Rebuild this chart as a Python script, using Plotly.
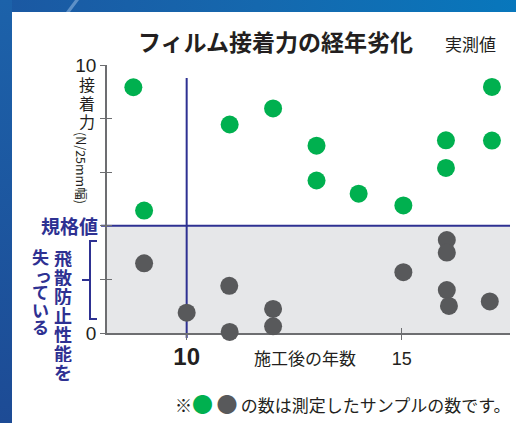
import base64
import plotly.graph_objects as go

# ---------------- data ----------------
years_ok = [8.76, 9.01, 11.0, 12.01, 13.02, 13.02, 14.0, 15.04, 16.03, 16.03, 17.1, 17.1]
force_ok = [9.17, 4.57, 7.78, 8.38, 6.99, 5.69, 5.2, 4.76, 7.19, 6.16, 9.18, 7.18]

years_ng = [9.01, 10.0, 10.99, 11.0, 12.01, 12.01, 15.04, 16.05, 16.05, 16.05, 16.1, 17.05]
force_ng = [2.6, 0.76, 1.76, 0.04, 0.9, 0.25, 2.27, 3.47, 3.0, 1.6, 1.01, 1.18]

spec_value = 4          # 規格値
highlight_year = 10     # 強調年
x_range = [8.147, 17.52]
y_range = [0, 10]
y_tickvals = [0, 2, 4, 6, 8, 10]
y_ticktext = ["0", "", "", "", "", "10"]
x_tickvals = [10, 15]
x_ticktext = ['<b><span style="font-size:24px">10</span></b>', "15"]

title_text = "フィルム接着力の経年劣化"
subtitle_text = "実測値"
x_title = "施工後の年数"
y_title_upright = "接着力"
y_title_rot = "(N/25mm幅)"
spec_label = "規格値"
fail_col1 = "飛散防止性能を"
fail_col2 = "失っている"
note_text = ('※<span style="color:#00b04f;font-size:21px">●</span>\u2009'
             '<span style="color:#58595b;font-size:21px">●</span>\u2009'
             'の数は測定したサンプルの数です。')

# ---------------- styling ----------------
W, H = 516, 423
PL, PR, PT, PB = 107, 510, 65, 333
GREEN = "#00b04f"
GRAY = "#58595b"
NAVY = "#2e3192"
AXIS = "#6d6e71"
TXT = "#231f20"
JP = "Noto Sans CJK JP"
NUM = "Liberation Sans"


def px(p):
    return (p - PL) / (PR - PL)


def py(p):
    return (PB - p) / (PB - PT)


fig = go.Figure()

fig.add_trace(go.Scatter(x=years_ng, y=force_ng, mode="markers", cliponaxis=False,
                         marker=dict(size=18, color=GRAY, line=dict(width=0)),
                         showlegend=False, hoverinfo="skip"))
fig.add_trace(go.Scatter(x=years_ok, y=force_ok, mode="markers", cliponaxis=False,
                         marker=dict(size=18, color=GREEN, line=dict(width=0)),
                         showlegend=False, hoverinfo="skip"))
# dummy trace to realise the overlay axes (inside ticks)
fig.add_trace(go.Scatter(x=[None], y=[None], xaxis="x2", yaxis="y2", mode="markers",
                         showlegend=False, hoverinfo="skip"))

# background frame
svg = f"""<svg xmlns='http://www.w3.org/2000/svg' width='{W}' height='{H}' viewBox='0 0 {W} {H}'>
<defs>
<linearGradient id='t' x1='0' y1='0' x2='1' y2='0'><stop offset='0' stop-color='#1b58a2'/><stop offset='0.5' stop-color='#1568ae'/><stop offset='1' stop-color='#0877bc'/></linearGradient>
<linearGradient id='l' x1='0' y1='0' x2='0' y2='1'><stop offset='0' stop-color='#1c62aa'/><stop offset='1' stop-color='#1d4b95'/></linearGradient>
</defs>
<rect width='{W}' height='{H}' fill='white'/>
<rect width='{W}' height='12' fill='url(#t)'/>
<rect width='12' height='{H}' fill='url(#l)'/>
<polygon points='75,0 79,0 70,12 66,12' fill='#7aa7d6' opacity='0.7'/>
</svg>"""
src = "data:image/svg+xml;base64," + base64.b64encode(svg.encode()).decode()

shapes = [
    # 不合格ゾーン
    dict(type="rect", xref="paper", yref="y", x0=0, x1=1, y0=0, y1=spec_value,
         fillcolor="#e6e7e9", line=dict(width=0), layer="below"),
    # 規格値ライン
    dict(type="line", xref="paper", yref="y", x0=px(101), x1=1, y0=spec_value, y1=spec_value,
         line=dict(color=NAVY, width=2), layer="below"),
    # 10年ライン
    dict(type="line", xref="x", yref="paper", x0=highlight_year, x1=highlight_year,
         y0=py(338), y1=py(78), line=dict(color=NAVY, width=2), layer="below"),
    # bracket
    dict(type="path", xref="paper", yref="paper",
         path=f"M {px(97)},{py(241)} L {px(90)},{py(241)} L {px(90)},{py(319)} L {px(97)},{py(319)}",
         line=dict(color=NAVY, width=2)),
    dict(type="line", xref="paper", yref="paper", x0=px(82), x1=px(90), y0=py(280), y1=py(280),
         line=dict(color=NAVY, width=2)),
]


def note(text, x, y, size, color=TXT, xanchor="center", yref="paper", angle=0, family=JP,
         height=None):
    d = dict(text=text, x=x, y=y, xref="paper", yref=yref, xanchor=xanchor, yanchor="middle",
             textangle=angle, showarrow=False, font=dict(family=family, size=size, color=color))
    if height is not None:
        d.update(height=height, borderpad=0)
    return d


ann = []
ann.append(note(f"<b>{title_text}</b>", px(275), py(41), 23))
ann.append(note(subtitle_text, px(470), py(43), 17))
ann.append(note(x_title, px(305), py(357), 17))
ann.append(note(note_text, px(173), py(403), 17, xanchor="left"))
ann.append(note(f"<b>{spec_label}</b>", px(100), spec_value, 19, color=NAVY, xanchor="right", yref="y"))
# y title, upright kanji then rotated unit
for i, ch in enumerate(y_title_upright):
    ann.append(note(ch, px(87), py(84 + 18.5 * i), 16, height=18))
ann.append(note(y_title_rot, px(82), py(168), 12.5, angle=90))
# vertical failure label
for i, ch in enumerate(fail_col1):
    ann.append(note(f"<b>{ch}</b>", px(63), py(257 + 19 * i), 18, color=NAVY, height=19))
for i, ch in enumerate(fail_col2):
    dx = 3 if ch == "っ" else 0
    ann.append(note(f"<b>{ch}</b>", px(40 + dx), py(257 + 17.5 * i), 17, color=NAVY, height=17.5))

fig.update_layout(
    width=W, height=H,
    margin=dict(l=PL, r=W - PR, t=PT, b=H - PB, pad=0),
    paper_bgcolor="white", plot_bgcolor="rgba(0,0,0,0)",
    images=[dict(source=src, xref="paper", yref="paper", x=px(0), y=py(0),
                 sizex=W / (PR - PL), sizey=H / (PB - PT), xanchor="left", yanchor="top",
                 sizing="stretch", layer="below")],
    shapes=shapes, annotations=ann,
    xaxis=dict(range=x_range, tickvals=x_tickvals, ticktext=x_ticktext, ticks="outside",
               ticklen=5, tickcolor=AXIS, tickwidth=1.2, showline=True, linecolor=AXIS, linewidth=1.5,
               showgrid=False, zeroline=False, layer="below traces", ticklabelstandoff=4,
               tickfont=dict(family=NUM, size=18, color=TXT)),
    yaxis=dict(range=y_range, tickvals=y_tickvals, ticktext=y_ticktext, ticks="outside",
               ticklen=5, tickcolor=AXIS, tickwidth=1.2, showline=True, linecolor=AXIS, linewidth=1.5,
               showgrid=False, zeroline=False, layer="below traces",
               tickfont=dict(family=NUM, size=19, color=TXT)),
    xaxis2=dict(range=x_range, overlaying="x", anchor="y2", tickvals=[15], ticks="inside",
                ticklen=5, tickcolor=AXIS, tickwidth=1.2, showticklabels=False, showline=False,
                showgrid=False, zeroline=False),
    yaxis2=dict(range=y_range, overlaying="y", anchor="x2", tickvals=y_tickvals, ticks="inside",
                ticklen=5, tickcolor=AXIS, tickwidth=1.2, showticklabels=False, showline=False,
                showgrid=False, zeroline=False),
)

fig.write_html("out.html", config={"displayModeBar": False},
               post_script="document.body.style.margin='0px';document.body.style.overflow='hidden';")
